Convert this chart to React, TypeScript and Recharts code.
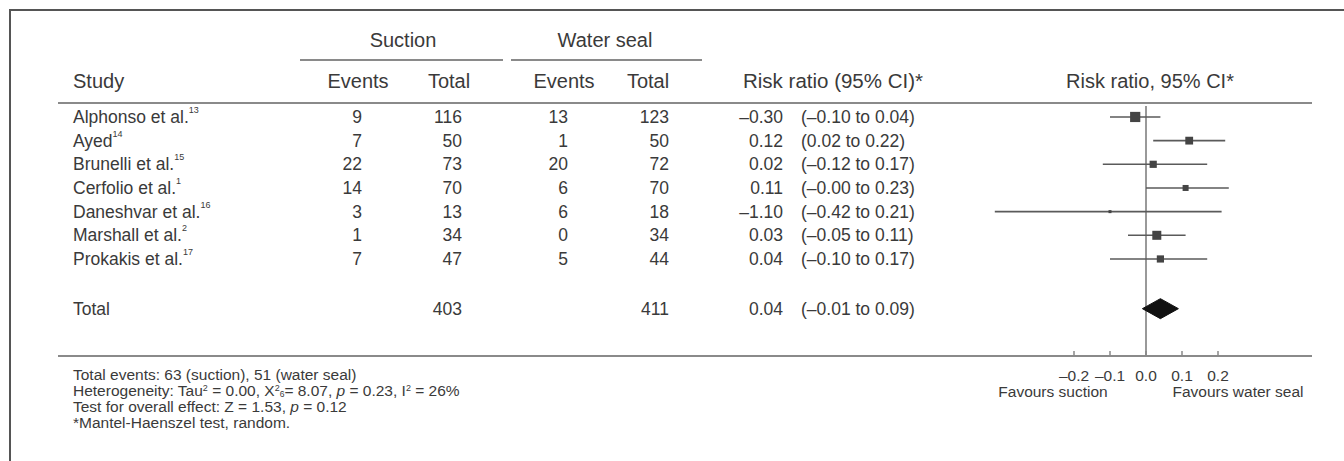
import React from "react";
import { ScatterChart, Scatter, XAxis, YAxis, ErrorBar, ReferenceLine } from "recharts";

// table columns
const studies = ["Alphonso et al.", "Ayed", "Brunelli et al.", "Cerfolio et al.", "Daneshvar et al.", "Marshall et al.", "Prokakis et al."];
const refs = ["13", "14", "15", "1", "16", "2", "17"];
const suctionEvents = [9, 7, 22, 14, 3, 1, 7];
const suctionTotal = [116, 50, 73, 70, 13, 34, 47];
const waterEvents = [13, 1, 20, 6, 6, 0, 5];
const waterTotal = [123, 50, 72, 70, 18, 34, 44];
const rrLabels = ["–0.30", "0.12", "0.02", "0.11", "–1.10", "0.03", "0.04"];
const ciLabels = ["(–0.10 to 0.04)", "(0.02 to 0.22)", "(–0.12 to 0.17)", "(–0.00 to 0.23)", "(–0.42 to 0.21)", "(–0.05 to 0.11)", "(–0.10 to 0.17)"];

// plotted values
const estimates = [-0.03, 0.12, 0.02, 0.11, -0.1, 0.03, 0.04];
const ciLow = [-0.1, 0.02, -0.12, 0.0, -0.42, -0.05, -0.1];
const ciHigh = [0.04, 0.22, 0.17, 0.23, 0.21, 0.11, 0.17];
const weights = [17, 13, 12, 10, 5, 15, 12];

const totalSuction = 403;
const totalWater = 411;
const totalRR = "0.04";
const totalCI = "(–0.01 to 0.09)";
const totalEstimate = 0.04;
const totalLow = -0.01;
const totalHigh = 0.09;

const xTicks = [-0.2, -0.1, 0, 0.1, 0.2];

const TOTAL_ROW = 8.1;
const rowTicks = [...studies.map((_, i) => i), TOTAL_ROW];

const FONT = "'Liberation Sans', Arial, sans-serif";
const TEXT = "#3a3a3a";

const studyData = studies.map((s, i) => ({
  x: estimates[i],
  y: i,
  err: [estimates[i] - ciLow[i], ciHigh[i] - estimates[i]],
  w: weights[i],
}));
const totalData = [totalLow, totalEstimate, totalHigh].map((x) => ({ x, y: TOTAL_ROW }));

const fmtTick = (v: number) => (v < 0 ? "–" + Math.abs(v).toFixed(1) : v.toFixed(1));

function RowTick(props: any) {
  const { y, payload } = props;
  const v = Number(payload?.value);
  const isTotal = Math.abs(v - TOTAL_ROW) < 1e-6;
  const i = Math.round(v);
  const common = { fontSize: 17.5, fill: TEXT, fontFamily: FONT, dominantBaseline: "central" as const };
  return (
    <g>
      <text x={73} y={y} {...common} textAnchor="start">
        {isTotal ? "Total" : studies[i]}
        {!isTotal && (
          <tspan fontSize={9} dy={-7}>
            {refs[i]}
          </tspan>
        )}
      </text>
      {!isTotal && (
        <text x={362} y={y} {...common} textAnchor="end">
          {suctionEvents[i]}
        </text>
      )}
      <text x={462} y={y} {...common} textAnchor="end">
        {isTotal ? totalSuction : suctionTotal[i]}
      </text>
      {!isTotal && (
        <text x={568} y={y} {...common} textAnchor="end">
          {waterEvents[i]}
        </text>
      )}
      <text x={669} y={y} {...common} textAnchor="end">
        {isTotal ? totalWater : waterTotal[i]}
      </text>
      <text x={783} y={y} {...common} textAnchor="end">
        {isTotal ? totalRR : rrLabels[i]}
      </text>
      <text x={801} y={y} {...common} textAnchor="start">
        {isTotal ? totalCI : ciLabels[i]}
      </text>
    </g>
  );
}

function XTick(props: any) {
  const { x, y, payload } = props;
  return (
    <g>
      <line x1={x} x2={x} y1={y - 5} y2={y} stroke="#888" strokeWidth={1.5} />
      <text x={x} y={y + 19} textAnchor="middle" dominantBaseline="central" fontSize={15.5} fill={TEXT} fontFamily={FONT}>
        {fmtTick(payload.value)}
      </text>
    </g>
  );
}

function StudyBox(props: any) {
  const { cx, cy, payload } = props;
  const s = payload.w * 0.6;
  return <rect x={cx - s / 2} y={cy - s / 2} width={s} height={s} fill="#444" />;
}

function Diamond(props: any) {
  const p = props.points;
  if (!p || p.length < 3) return <g />;
  const d = `M${p[0].x},${p[0].y} L${p[1].x},${p[1].y - 10} L${p[2].x},${p[2].y} L${p[1].x},${p[1].y + 10} Z`;
  return <path d={d} fill="#111" stroke="#111" />;
}

const abs = (left: number, top: number, extra: React.CSSProperties = {}): React.CSSProperties => ({
  position: "absolute",
  left,
  top,
  whiteSpace: "nowrap",
  color: TEXT,
  fontFamily: FONT,
  ...extra,
});

const centered = (x: number, y: number, size: number): React.CSSProperties =>
  abs(x, y, { transform: "translate(-50%, -50%)", fontSize: size, lineHeight: 1 });

const hline = (x1: number, x2: number, y: number, color: string, t = 2): React.CSSProperties => ({
  position: "absolute",
  left: x1,
  top: y - t / 2,
  width: x2 - x1,
  height: t,
  background: color,
});

const supStyle: React.CSSProperties = { fontSize: 9, verticalAlign: "5px", lineHeight: 0 };

export default function App() {
  return (
    <div style={{ position: "absolute", left: 0, top: 0, width: 1344, height: 461, background: "#fff", overflow: "hidden" }}>
      {/* frame */}
      <div style={hline(10, 1344, 10, "#555", 2)} />
      <div style={{ position: "absolute", left: 9, top: 9, width: 2, height: 452, background: "#555" }} />

      {/* header */}
      <div style={centered(403, 40, 20)}>Suction</div>
      <div style={centered(605, 40, 20)}>Water seal</div>
      <div style={hline(300, 503, 60, "#8a8a8a")} />
      <div style={hline(511, 702, 60, "#8a8a8a")} />
      <div style={abs(73, 81, { transform: "translateY(-50%)", fontSize: 20, lineHeight: 1 })}>Study</div>
      <div style={centered(358, 81, 20)}>Events</div>
      <div style={centered(449, 81, 20)}>Total</div>
      <div style={centered(564, 81, 20)}>Events</div>
      <div style={centered(648, 81, 20)}>Total</div>
      <div style={centered(833, 81, 20.5)}>Risk ratio (95% CI)*</div>
      <div style={centered(1150, 81, 20)}>Risk ratio, 95% CI*</div>
      <div style={hline(58, 1312, 103, "#8a8a8a")} />

      <div style={{ position: "absolute", left: 0, top: 0 }}>
        <ScatterChart width={1344} height={461} margin={{ top: 10, right: 32, bottom: 75, left: 56 }}>
          <XAxis
            type="number"
            dataKey="x"
            domain={[-3.0222, 0.4611]}
            allowDataOverflow
            ticks={xTicks}
            interval={0}
            height={30}
            tickSize={0}
            tickMargin={0}
            tickLine={false}
            axisLine={{ stroke: "#8a8a8a", strokeWidth: 2 }}
            tick={XTick}
          />
          <YAxis
            type="number"
            dataKey="y"
            domain={[-4.52, 10.1]}
            allowDataOverflow
            reversed
            ticks={rowTicks}
            interval={0}
            width={2}
            axisLine={false}
            tickLine={false}
            tick={RowTick}
          />
          <ReferenceLine
            segment={[
              { x: 0, y: -0.46 },
              { x: 0, y: 10.1 },
            ]}
            stroke="#777"
            strokeWidth={1.5}
          />
          <Scatter data={studyData} shape={<StudyBox />} isAnimationActive={false}>
            <ErrorBar dataKey="err" direction="x" width={0} stroke="#5a5a5a" strokeWidth={1.6} />
          </Scatter>
          <Scatter data={totalData} shape={() => <g />} line={Diamond} lineType="joint" isAnimationActive={false} />
        </ScatterChart>
      </div>

      {/* axis captions */}
      <div style={centered(1053, 392, 15.5)}>Favours suction</div>
      <div style={centered(1238, 392, 15.5)}>Favours water seal</div>

      {/* footnotes */}
      <div style={abs(73, 367, { fontSize: 15.5, lineHeight: "16px" })}>
        <div>Total events: 63 (suction), 51 (water seal)</div>
        <div>
          Heterogeneity: Tau<sup style={supStyle}>2</sup> = 0.00, X<sup style={supStyle}>2</sup>
          <sub style={{ fontSize: 8.5, verticalAlign: "-1px", lineHeight: 0 }}>6</sub>= 8.07, <i>p</i> = 0.23, I
          <sup style={supStyle}>2</sup> = 26%
        </div>
        <div>
          Test for overall effect: Z = 1.53, <i>p</i> = 0.12
        </div>
        <div>*Mantel-Haenszel test, random.</div>
      </div>
    </div>
  );
}
